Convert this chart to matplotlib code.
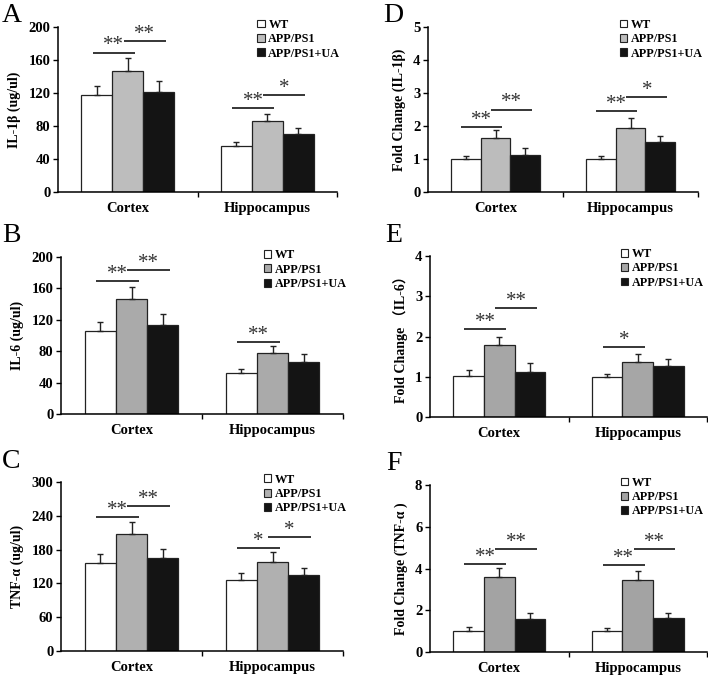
"""Cytokine levels (IL-1β, IL-6, TNF-α) in cortex and hippocampus: protein and fold change."""

import matplotlib

matplotlib.use("Agg")
import matplotlib.pyplot as plt
from matplotlib.patches import Patch

plt.rcParams["font.family"] = ["Liberation Serif", "Noto Sans CJK SC", "DejaVu Sans"]
plt.rcParams["font.weight"] = "bold"

regions = ["Cortex", "Hippocampus"]
groups = ["WT", "APP/PS1", "APP/PS1+UA"]

# panel A: IL-1β (ug/ul)
il1b_mean = [[117, 56], [147, 86], [121, 70]]
il1b_err = [[12, 5], [16, 9], [13, 8]]
il1b_sig = [(0, 0, 1, 169, "**"), (0, 1, 2, 183, "**"), (1, 0, 1, 102, "**"), (1, 1, 2, 117, "*")]

# panel B: IL-6 (ug/ul)
il6_mean = [[106, 52], [147, 78], [114, 66]]
il6_err = [[11, 5], [15, 8], [13, 10]]
il6_sig = [(0, 0, 1, 169, "**"), (0, 1, 2, 183, "**"), (1, 0, 1, 92, "**")]

# panel C: TNF-α (ug/ul)
tnf_mean = [[156, 126], [207, 158], [165, 135]]
tnf_err = [[16, 13], [22, 17], [16, 13]]
tnf_sig = [(0, 0, 1, 238, "**"), (0, 1, 2, 258, "**"), (1, 0, 1, 182, "*"), (1, 1, 2, 203, "*")]

# panel D: fold change IL-1β
fc_il1b_mean = [[1.0, 1.0], [1.63, 1.94], [1.13, 1.52]]
fc_il1b_err = [[0.08, 0.08], [0.25, 0.3], [0.2, 0.18]]
fc_il1b_sig = [(0, 0, 1, 1.98, "**"), (0, 1, 2, 2.5, "**"), (1, 0, 1, 2.45, "**"), (1, 1, 2, 2.88, "*")]

# panel E: fold change IL-6
fc_il6_mean = [[1.01, 1.0], [1.79, 1.37], [1.12, 1.27]]
fc_il6_err = [[0.17, 0.08], [0.21, 0.2], [0.22, 0.16]]
fc_il6_sig = [(0, 0, 1, 2.18, "**"), (0, 1, 2, 2.71, "**"), (1, 0, 1, 1.73, "*")]

# panel F: fold change TNF-α
fc_tnf_mean = [[1.0, 1.0], [3.59, 3.43], [1.56, 1.64]]
fc_tnf_err = [[0.18, 0.15], [0.43, 0.44], [0.3, 0.22]]
fc_tnf_sig = [(0, 0, 1, 4.22, "**"), (0, 1, 2, 4.94, "**"), (1, 0, 1, 4.16, "**"), (1, 1, 2, 4.94, "**")]

W, H = 708, 678
BAR_W = 0.222
BLACK = "#141414"


def px_axes(fig, x0, y0, x1, y1):
    return fig.add_axes([x0 / W, 1 - y1 / H, (x1 - x0) / W, (y1 - y0) / H])


def draw_panel(ax, means, errs, sigs, ymax, step, ylabel, gray, letter, letter_xy, legend_x):
    colors = ["white", gray, BLACK]
    for g in range(3):
        xs = [r + (g - 1) * BAR_W for r in range(2)]
        ax.bar(xs, means[g], width=BAR_W, color=colors[g], edgecolor="#222222", linewidth=0.9, zorder=2)
        ax.errorbar(xs, means[g], yerr=[[0, 0], errs[g]], fmt="none", ecolor="#222222",
                    elinewidth=1.0, capsize=2.2, capthick=1.0, zorder=3)
    for r, i, j, y, txt in sigs:
        x1 = r + (i - 1) * BAR_W - 0.03
        x2 = r + (j - 1) * BAR_W + 0.05
        ax.plot([x1, x2], [y, y], color=BLACK, lw=1.2, solid_capstyle="butt")
        ax.annotate(txt, ((x1 + x2) / 2, y), xytext=(0, 1.5), textcoords="offset points",
                    ha="center", va="baseline", fontsize=15, fontweight="normal", color="#333333")

    ax.set_xlim(-0.5, 1.5)
    ax.set_ylim(0, ymax)
    ticks = [k * step for k in range(int(round(ymax / step)) + 1)]
    ax.set_yticks(ticks)
    ax.set_yticklabels([f"{t:g}" for t in ticks])
    ax.set_xticks([0, 1])
    ax.set_xticklabels(regions, fontsize=10.5)
    ax.set_xticks([0.5, 1.5], minor=True)
    ax.tick_params(axis="x", which="major", length=0, pad=7)
    ax.tick_params(axis="x", which="minor", length=3.5, width=1, direction="out")
    ax.tick_params(axis="y", length=3.5, width=1, direction="out", labelsize=10.5, pad=2)
    for s in ("top", "right"):
        ax.spines[s].set_visible(False)
    for s in ("left", "bottom"):
        ax.spines[s].set_linewidth(1.1)
    ax.set_ylabel(ylabel, fontsize=10, fontweight="bold", labelpad=5)

    handles = [Patch(facecolor=c, edgecolor="#222222", linewidth=0.8) for c in colors]
    ax.legend(handles, groups, loc="upper left", bbox_to_anchor=(legend_x, 1.05), frameon=False,
              handlelength=0.6, handleheight=0.6, handletextpad=0.3,
              labelspacing=0.2, borderpad=0, borderaxespad=0, prop={"weight": "bold", "size": 8.7})
    ax.figure.text(letter_xy[0] / W, 1 - letter_xy[1] / H, letter, fontsize=20,
                   fontweight="normal", va="top", ha="left")


fig = plt.figure(figsize=(W / 100, H / 100), dpi=100)

ax_a = px_axes(fig, 58, 27, 337, 192)
draw_panel(ax_a, il1b_mean, il1b_err, il1b_sig, 200, 40, "IL-1β (ug/ul)", "#bdbdbd", "A", (2, 3), 0.715)

ax_b = px_axes(fig, 61, 257, 343, 414)
draw_panel(ax_b, il6_mean, il6_err, il6_sig, 200, 40, "IL-6 (ug/ul)", "#aaaaaa", "B", (2, 223), 0.72)

ax_c = px_axes(fig, 61, 482, 343, 651)
draw_panel(ax_c, tnf_mean, tnf_err, tnf_sig, 300, 60, "TNF-α (ug/ul)", "#b0b0b0", "C", (2, 449), 0.72)

ax_d = px_axes(fig, 428, 27, 698, 192)
draw_panel(ax_d, fc_il1b_mean, fc_il1b_err, fc_il1b_sig, 5, 1, "Fold Change (IL-1β)", "#bcbcbc", "D", (383, 3), 0.71)

ax_e = px_axes(fig, 430, 256, 707, 417)
draw_panel(ax_e, fc_il6_mean, fc_il6_err, fc_il6_sig, 4, 1, "Fold Change （IL-6）", "#a6a6a6", "E", (385, 223), 0.69)

ax_f = px_axes(fig, 430, 485, 707, 652)
draw_panel(ax_f, fc_tnf_mean, fc_tnf_err, fc_tnf_sig, 8, 2, "Fold Change (TNF-α )", "#a3a3a3", "F", (386, 451), 0.69)

fig.savefig("out.png", dpi=100)
